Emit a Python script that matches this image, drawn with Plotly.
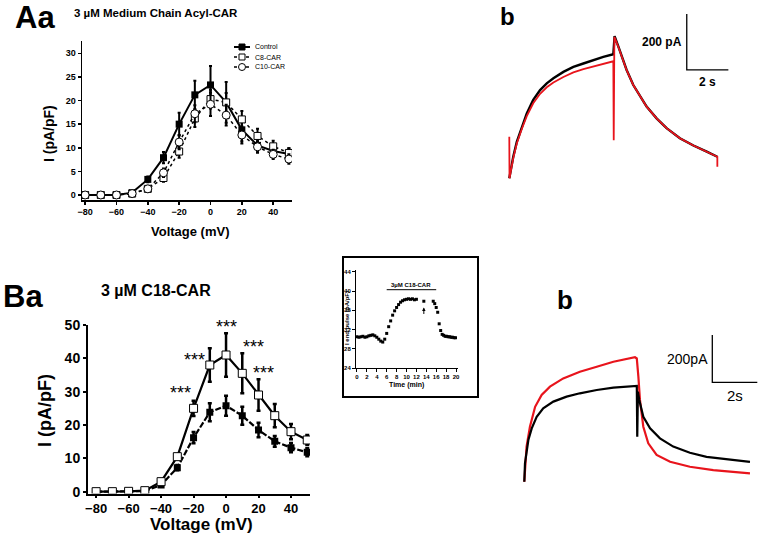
import plotly.graph_objects as go

W, H = 761, 534
def px(x): return x / W
def py(y): return 1 - y / H

FONT = "Arial, Liberation Sans, sans-serif"

# ---------------- Panel Aa data ----------------
volt = [-80, -70, -60, -50, -40, -30, -20, -10, 0, 10, 20, 30, 40, 50]
aa_control = [0, 0, 0, 0.5, 3.3, 7.9, 15.0, 21.2, 23.3, 19.6, 13.8, 10.5, 9.3, 8.7]
aa_control_err = [0, 0, 0, 0.3, 0.6, 1.2, 2.4, 3.0, 4.0, 4.3, 2.4, 1.5, 1.3, 1.2]
aa_c8 = [0, 0, 0, 0.3, 1.3, 3.6, 9.2, 16.2, 20.3, 19.6, 16.0, 12.5, 10.3, 8.9]
aa_c8_err = [0, 0, 0, 0.3, 0.5, 0.8, 1.3, 1.8, 2.0, 2.0, 1.8, 1.5, 1.2, 1.0]
aa_c10 = [0, 0, 0, 0.3, 1.3, 4.7, 11.2, 17.2, 19.2, 16.9, 12.7, 10.2, 8.6, 7.6]
aa_c10_err = [0, 0, 0, 0.3, 0.5, 0.9, 1.5, 1.8, 2.5, 2.2, 1.8, 1.2, 1.0, 1.0]
aa_names = ["Control", "C8-CAR", "C10-CAR"]

# ---------------- Panel Ba data ----------------
ba_control = [0, 0, 0, 0.2, 2.0, 7.2, 16.2, 23.8, 25.8, 22.8, 18.5, 15.1, 13.2, 11.8]
ba_control_err = [0, 0, 0, 0.2, 0.4, 0.8, 1.7, 2.7, 3.0, 2.7, 2.2, 1.6, 1.4, 1.2]
ba_c18 = [0, 0, 0.1, 0.3, 3.0, 10.5, 25.0, 38.0, 41.0, 35.5, 29.0, 22.8, 18.0, 15.5]
ba_c18_err = [0, 0, 0, 0.2, 0.5, 0.7, 2.3, 5.0, 6.5, 6.0, 4.7, 3.5, 2.3, 1.5]
star_v = [-28.3, -19.5, 0, 17.2, 23.0]
star_i = [29.5, 39.5, 49.5, 43.5, 35.7]

# ---------------- Inset time course ----------------
inset_t = [0, 0.4, 0.8, 1.2, 1.6, 2.0, 2.4, 2.8, 3.2, 3.6, 4.0, 4.4, 4.8, 5.2, 5.6,
           6.0, 6.4, 6.8, 7.2, 7.6, 8.0, 8.4, 8.8, 9.2, 9.6, 10.0, 10.4, 10.8, 11.2,
           11.6, 12.0, 13.5, 15.4, 15.7, 16.0, 16.3, 16.6, 16.9, 17.2, 17.5, 17.8,
           18.1, 18.4, 18.7, 19.0, 19.3, 19.6, 19.9]
inset_i = [30.5, 30.4, 30.5, 30.6, 30.4, 30.5, 30.7, 30.8, 30.9, 30.7, 30.4, 30.0, 29.6,
           29.4, 30.0, 31.2, 32.6, 33.8, 35.0, 35.9, 36.6, 37.2, 37.7, 38.0, 38.2, 38.3,
           38.4, 38.3, 38.4, 38.2, 38.3, 37.9, 37.9, 37.4, 36.6, 35.6, 33.2, 31.8, 31.0,
           30.8, 30.6, 30.6, 30.5, 30.5, 30.4, 30.4, 30.3, 30.3]
drug_on, drug_off = 6, 16
arrow_t, arrow_i = 13.5, 36.6

# ---------------- Top current traces (s, pA) ----------------
top_black_t = [0, 0.19, 0.36, 0.6, 0.84, 1.15, 1.48, 1.8, 2.12, 2.6, 3.08, 3.56, 4.04, 4.52, 5.0,
               5.06, 5.24, 5.40, 5.64, 5.96, 6.28, 6.6, 7.08, 7.56, 8.2, 8.85, 9.49, 10.0]
top_black_i = [0, 77, 130, 184, 232, 280, 315, 339, 357, 380, 398, 410, 422, 434, 443,
               508, 471, 434, 387, 333, 292, 256, 214, 179, 143, 117, 95, 77]
top_red_t = [0, 0.01, 0.19, 0.36, 0.6, 0.84, 1.15, 1.48, 1.8, 2.12, 2.6, 3.08, 3.56, 4.04, 4.52,
             5.0, 5.02, 5.05, 5.24, 5.40, 5.64, 5.96, 6.28, 6.6, 7.08, 7.56, 8.2, 8.85, 9.49,
             10.0, 10.0]
top_red_i = [148, 0, 72, 124, 176, 222, 268, 302, 325, 342, 362, 378, 390, 400, 410,
             418, 136, 505, 470, 433, 386, 333, 292, 256, 214, 179, 143, 117, 95, 77, 41]
top_bar = dict(t0=8.53, i0=387, dt=2, di=200)

# ---------------- Bottom current traces (s, pA) ----------------
bot_black_t = [0, 0.03, 0.18, 0.33, 0.55, 0.84, 1.29, 1.88, 2.47, 3.22, 3.96, 5.0, 5.02,
               5.05, 5.11, 5.29, 5.59, 6.03, 6.62, 7.36, 8.1, 8.99, 10.03]
bot_black_i = [0, 77, 176, 225, 274, 310, 338, 359, 373, 387, 397, 404, 190,
               380, 345, 274, 225, 183, 148, 122, 105, 94, 84]
bot_red_t = [0, 0.1, 0.25, 0.48, 0.77, 1.14, 1.73, 2.47, 3.22, 3.96, 4.92, 5.0, 5.07, 5.14,
             5.29, 5.51, 5.88, 6.48, 7.36, 8.4, 10.03]
bot_red_i = [0, 148, 232, 316, 366, 401, 436, 464, 485, 506, 525, 520, 443, 345,
             232, 162, 113, 84, 63, 49, 35]
bot_bar = dict(t0=8.356, i0=419.4, dt=2, di=200)

RED = "#e8141c"
fig = go.Figure()

# ---- Aa traces ----
aa_styles = [
    dict(line=dict(color="black", width=2), marker=dict(symbol="square", size=7, color="black")),
    dict(line=dict(color="black", width=1.5, dash="dot"),
         marker=dict(symbol="square", size=7, color="white", line=dict(color="black", width=1))),
    dict(line=dict(color="black", width=1.5, dash="dot"),
         marker=dict(symbol="circle", size=8, color="white", line=dict(color="black", width=1))),
]
for name, ys, es, st in zip(aa_names, [aa_control, aa_c8, aa_c10],
                            [aa_control_err, aa_c8_err, aa_c10_err], aa_styles):
    fig.add_trace(go.Scatter(x=volt, y=ys, name=name, mode="lines+markers", showlegend=False,
        error_y=dict(type="data", array=es, color="black", thickness=2, width=1.5),
        xaxis="x", yaxis="y", **st))

# ---- Ba traces ----
fig.add_trace(go.Scatter(x=volt, y=ba_control, mode="lines+markers", showlegend=False,
    line=dict(color="black", width=2.2, dash="6px,2px"),
    marker=dict(symbol="square", size=7, color="black"),
    error_y=dict(type="data", array=ba_control_err, color="black", thickness=2.5, width=2),
    xaxis="x2", yaxis="y2"))
fig.add_trace(go.Scatter(x=volt, y=ba_c18, mode="lines+markers", showlegend=False,
    line=dict(color="black", width=2.2),
    marker=dict(symbol="square", size=8, color="white", line=dict(color="black", width=1)),
    error_y=dict(type="data", array=ba_c18_err, color="black", thickness=2.5, width=2),
    xaxis="x2", yaxis="y2"))

# ---- Inset ----
fig.add_trace(go.Scatter(x=inset_t, y=inset_i, mode="markers", showlegend=False,
    marker=dict(symbol="square", size=3, color="black"), xaxis="x3", yaxis="y3"))
fig.add_trace(go.Scatter(x=[drug_on, drug_off], y=[40.3, 40.3], mode="lines", showlegend=False,
    line=dict(color="black", width=1), xaxis="x3", yaxis="y3"))

# ---- Top traces ----
fig.add_trace(go.Scatter(x=top_black_t, y=top_black_i, mode="lines", showlegend=False,
    line=dict(color="black", width=2.4), xaxis="x4", yaxis="y4"))
fig.add_trace(go.Scatter(x=top_red_t, y=top_red_i, mode="lines", showlegend=False,
    line=dict(color=RED, width=1.8), xaxis="x4", yaxis="y4"))
b = top_bar
fig.add_trace(go.Scatter(x=[b["t0"], b["t0"], b["t0"] + b["dt"]],
    y=[b["i0"] + b["di"], b["i0"], b["i0"]], mode="lines", showlegend=False,
    line=dict(color="black", width=1.3), xaxis="x4", yaxis="y4"))

# ---- Bottom traces ----
fig.add_trace(go.Scatter(x=bot_red_t, y=bot_red_i, mode="lines", showlegend=False,
    line=dict(color=RED, width=2.2), xaxis="x5", yaxis="y5"))
fig.add_trace(go.Scatter(x=bot_black_t, y=bot_black_i, mode="lines", showlegend=False,
    line=dict(color="black", width=2.2), xaxis="x5", yaxis="y5"))
b = bot_bar
fig.add_trace(go.Scatter(x=[b["t0"], b["t0"], b["t0"] + b["dt"]],
    y=[b["i0"] + b["di"], b["i0"], b["i0"]], mode="lines", showlegend=False,
    line=dict(color="black", width=1.3), xaxis="x5", yaxis="y5"))

def axis_common(size, lw, tlen=3):
    return dict(showline=True, linecolor="black", linewidth=lw, ticks="outside",
                ticklen=tlen, tickwidth=lw, tickcolor="black", showgrid=False, zeroline=False,
                automargin=False,
                tickfont=dict(family=FONT, size=size, color="black", weight="bold"))

hidden = dict(visible=False, showgrid=False, zeroline=False, automargin=False)

fig.update_layout(
    template="none",
    width=W, height=H, margin=dict(l=0, r=0, t=0, b=0, pad=0, autoexpand=False),
    paper_bgcolor="white", plot_bgcolor="rgba(0,0,0,0)",
    font=dict(family=FONT, color="black"),
    showlegend=False,
    xaxis=dict(domain=[px(82), px(292)], range=[-82, 52], anchor="y",
               tickvals=[-80, -60, -40, -20, 0, 20, 40], **axis_common(9, 1.5)),
    yaxis=dict(domain=[py(200), py(41)], range=[-1.06, 32.6], anchor="x",
               tickvals=[0, 5, 10, 15, 20, 25, 30], **axis_common(9, 1.5)),
    xaxis2=dict(domain=[px(88), px(310)], range=[-85, 51.7], anchor="y2",
                tickvals=[-80, -60, -40, -20, 0, 20, 40], **axis_common(13, 2, 2)),
    yaxis2=dict(domain=[py(493.5), py(325)], range=[-0.55, 50], anchor="x2",
                tickvals=[0, 10, 20, 30, 40, 50], **axis_common(14, 2)),
    xaxis3=dict(domain=[px(356), px(458)], range=[-0.2, 20.4], anchor="y3",
                tickvals=list(range(0, 21, 2)), **axis_common(6, 1)),
    yaxis3=dict(domain=[py(368), py(270)], range=[24, 44.4], anchor="x3",
                tickvals=[24, 28, 32, 36, 40, 44], **axis_common(6, 1)),
    xaxis4=dict(domain=[px(500), px(750)], range=[-0.447, 11.57], anchor="y4", **hidden),
    yaxis4=dict(domain=[py(190), py(0)], range=[-41.8, 636.8], anchor="x4", **hidden),
    xaxis5=dict(domain=[px(510), px(760)], range=[-0.636, 10.476], anchor="y5", **hidden),
    yaxis5=dict(domain=[py(500), py(320)], range=[-77.2, 682.3], anchor="x5", **hidden),
)

# inset frame
fig.add_shape(type="rect", xref="paper", yref="paper",
              x0=px(343), x1=px(478), y0=py(397), y1=py(257),
              line=dict(color="black", width=2))

# manual compact legend for panel Aa
leg_x0, leg_y0, leg_dy = 234, 47, 10
for k, (name, st) in enumerate(zip(aa_names, aa_styles)):
    yy = leg_y0 + k * leg_dy
    dash = "solid" if k == 0 else "dot"
    fig.add_shape(type="line", xref="paper", yref="paper",
                  x0=px(leg_x0), x1=px(leg_x0 + 16), y0=py(yy), y1=py(yy),
                  line=dict(color="black", width=2 if k == 0 else 1.5, dash=dash))
    cx = leg_x0 + 8
    if k == 2:
        fig.add_shape(type="circle", xref="paper", yref="paper",
                      x0=px(cx - 3.5), x1=px(cx + 3.5), y0=py(yy + 3.5), y1=py(yy - 3.5),
                      fillcolor="white", line=dict(color="black", width=1))
    else:
        fig.add_shape(type="rect", xref="paper", yref="paper",
                      x0=px(cx - 3), x1=px(cx + 3), y0=py(yy + 3), y1=py(yy - 3),
                      fillcolor="black" if k == 0 else "white",
                      line=dict(color="black", width=1))
    fig.add_annotation(text=name, x=px(leg_x0 + 19), y=py(yy), xref="paper", yref="paper",
                       xanchor="left", yanchor="middle", showarrow=False,
                       font=dict(family=FONT, size=7, color="black"))

def ann(text, x, y, size, bold=True, angle=0, **kw):
    fig.add_annotation(text=text, x=px(x), y=py(y), xref="paper", yref="paper",
                       showarrow=False, textangle=angle, xanchor="center", yanchor="middle",
                       font=dict(family=FONT, size=size, color="black",
                                 weight="bold" if bold else "normal"), **kw)

ann("Aa", 35, 18, 31)
ann("3 µM Medium Chain Acyl-CAR", 156, 13, 11.5)
ann("I (pA/pF)", 49, 134, 14, angle=-90)
ann("Voltage (mV)", 190, 231, 13)
ann("Ba", 23, 296, 31)
ann("3 µM C18-CAR", 156, 290, 16)
ann("I (pA/pF)", 45, 411, 18, angle=-90)
ann("Voltage (mV)", 202, 524, 17)
ann("b", 507, 17, 24)
ann("b", 565, 300, 26)
ann("I end pulse (pA/pF)", 347, 318, 6, angle=-90)
ann("Time (min)", 406, 385, 7)

# stars
for v, i in zip(star_v, star_i):
    fig.add_annotation(text="***", x=v, y=i, xref="x2", yref="y2", showarrow=False,
                       xanchor="center", yanchor="middle",
                       font=dict(family=FONT, size=18, color="black"))

# inset labels
fig.add_annotation(text="3µM C18-CAR", x=(drug_on + drug_off) / 2, y=40.3, xref="x3", yref="y3",
                   xanchor="center", yanchor="bottom", showarrow=False,
                   font=dict(family=FONT, size=6, color="black", weight="bold"))
fig.add_annotation(text="", x=arrow_t, y=arrow_i, xref="x3", yref="y3", ax=0, ay=8,
                   showarrow=True, arrowhead=2, arrowsize=0.7, arrowwidth=1, arrowcolor="black")

# scale bar labels
b = top_bar
fig.add_annotation(text="200 pA", x=b["t0"], y=b["i0"] + b["di"] * 0.5, xref="x4", yref="y4",
                   xanchor="right", yanchor="middle", xshift=-3, showarrow=False,
                   font=dict(family=FONT, size=12, color="black", weight="bold"))
fig.add_annotation(text="2 s", x=b["t0"] + b["dt"] / 2, y=b["i0"], xref="x4", yref="y4",
                   xanchor="center", yanchor="top", yshift=-3, showarrow=False,
                   font=dict(family=FONT, size=12, color="black", weight="bold"))
b = bot_bar
fig.add_annotation(text="200pA", x=b["t0"], y=b["i0"] + b["di"] * 0.5, xref="x5", yref="y5",
                   xanchor="right", yanchor="middle", xshift=-2, showarrow=False,
                   font=dict(family=FONT, size=14, color="black"))
fig.add_annotation(text="2s", x=b["t0"] + b["dt"] / 2, y=b["i0"], xref="x5", yref="y5",
                   xanchor="center", yanchor="top", yshift=-3, showarrow=False,
                   font=dict(family=FONT, size=15, color="black"))

fig.write_html("out.html", config={"displayModeBar": False, "staticPlot": True},
               post_script="document.body.style.margin='0px';document.body.style.overflow='hidden';")
